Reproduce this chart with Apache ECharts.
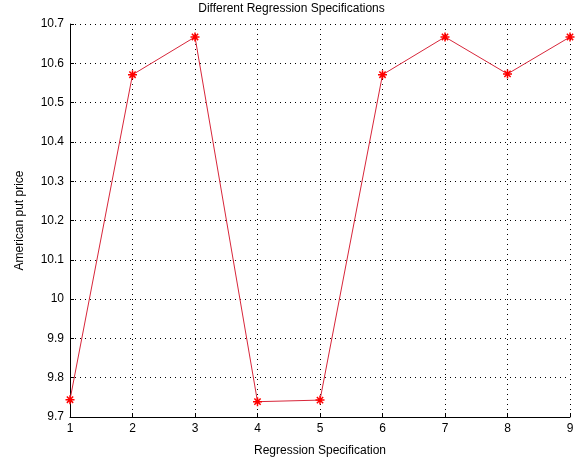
<!DOCTYPE html>
<html>
<head>
<meta charset="utf-8">
<script src="https://cdn.jsdelivr.net/npm/echarts@6/dist/echarts.min.js"></script>
<style>html,body{margin:0;padding:0;background:#fff;}#c{width:583px;height:466px;}</style>
</head>
<body>
<div id="c"></div>
<script>
const specs = [1, 2, 3, 4, 5, 6, 7, 8, 9];
const prices = [9.744, 10.571, 10.667, 9.739, 9.743, 10.571, 10.667, 10.573, 10.667];
const yTicks = ['9.7','9.8','9.9','10','10.1','10.2','10.3','10.4','10.5','10.6','10.7'];

const font = 'Liberation Sans, Arial, sans-serif';
const chart = echarts.init(document.getElementById('c'), null, {renderer: 'canvas'});
chart.setOption({
  animation: false,
  backgroundColor: '#fff',
  title: {
    text: 'Different Regression Specifications',
    left: 'center', top: -2,
    textStyle: {fontFamily: font, fontSize: 12, fontWeight: 'normal', color: '#000'}
  },
  grid: {left: 70, right: 13, top: 24, bottom: 49, containLabel: false},
  xAxis: {
    type: 'value', min: 1, max: 9, interval: 1,
    name: 'Regression Specification', nameLocation: 'middle', nameGap: 28,
    nameTextStyle: {fontFamily: font, fontSize: 12, color: '#000'},
    axisLine: {show: true, onZero: false, lineStyle: {color: '#000', width: 1}},
    axisTick: {show: true, inside: true, length: 4, lineStyle: {color: '#000'}},
    axisLabel: {fontFamily: font, fontSize: 12, color: '#000', margin: 6},
    splitLine: {show: true, lineStyle: {color: '#000', type: [1, 4], width: 1}}
  },
  yAxis: {
    type: 'value', min: 9.7, max: 10.7, interval: 0.1,
    name: 'American put price', nameLocation: 'middle', nameGap: 44, nameRotate: 90,
    nameTextStyle: {fontFamily: font, fontSize: 12, color: '#000'},
    axisLine: {show: true, onZero: false, lineStyle: {color: '#000', width: 1}},
    axisTick: {show: true, inside: true, length: 4, lineStyle: {color: '#000'}},
    axisLabel: {fontFamily: font, fontSize: 12, color: '#000', margin: 6,
      formatter: function (v) { const i = Math.round((v - 9.7) * 10); return yTicks[i] !== undefined ? yTicks[i] : ''; }},
    splitLine: {show: true, lineStyle: {color: '#000', type: [1, 4], width: 1}}
  },
  series: [{
    type: 'line',
    data: specs.map((s, i) => [s, prices[i]]),
    lineStyle: {color: '#d8263a', width: 1},
    symbol: 'path://M0,-5L0,5M-5,0L5,0M-3.5,-3.5L3.5,3.5M-3.5,3.5L3.5,-3.5',
    symbolSize: 9,
    showAllSymbol: true,
    itemStyle: {color: 'none', borderColor: '#ff0000', borderWidth: 1.5},
    clip: false
  }]
});
</script>
</body>
</html>
